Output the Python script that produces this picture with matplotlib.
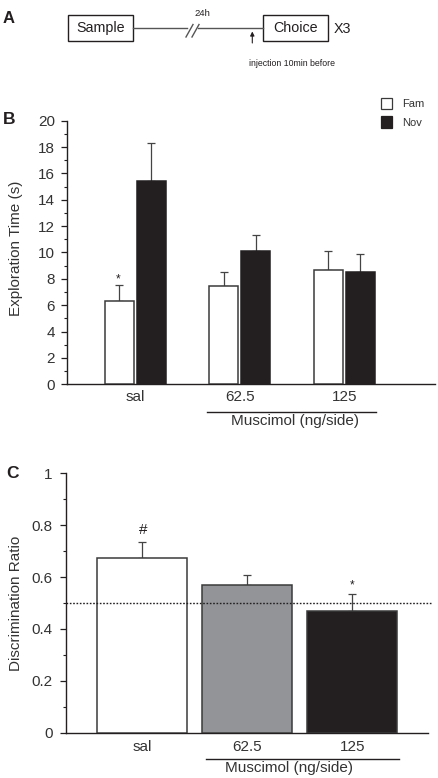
import matplotlib
matplotlib.use("Agg")
import matplotlib.pyplot as plt
from matplotlib.patches import Rectangle
from matplotlib.ticker import MultipleLocator
import numpy as np

plt.rcParams['font.family'] = ['Liberation Sans', 'DejaVu Sans']

# ---------------- data ----------------
groups = ["sal", "62.5", "125"]
fam_mean = [6.3, 7.45, 8.7]
fam_sem = [1.2, 1.05, 1.45]
nov_mean = [15.4, 10.15, 8.5]
nov_sem = [2.9, 1.15, 1.35]
series_labels = ["Fam", "Nov"]

dr_mean = [0.675, 0.569, 0.470]
dr_sem = [0.059, 0.038, 0.063]
dr_colors = ["#ffffff", "#929497", "#231f20"]
chance_level = 0.5

b_yticks = [0, 2, 4, 6, 8, 10, 12, 14, 16, 18, 20]
c_yticks = [0, 0.2, 0.4, 0.6, 0.8, 1]
c_yticklabels = ["0", "0.2", "0.4", "0.6", "0.8", "1"]

W, H = 438, 778
DPI = 100
fig = plt.figure(figsize=(W / DPI, H / DPI), dpi=DPI)

DARK = "#231f20"
EDGE = "#3a3a3a"
TXT = "#333333"

def px_axes(left, top, right, bottom):
    return fig.add_axes([left / W, 1 - bottom / H, (right - left) / W, (bottom - top) / H])

# ---------------- Panel A (schematic) ----------------
axA = fig.add_axes([0, 1 - 80 / H, 1, 80 / H])
axA.set_xlim(0, W)
axA.set_ylim(80, 0)
axA.axis("off")
axA.add_patch(Rectangle((68, 15), 65, 25.7, fill=False, ec=DARK, lw=1.0))
axA.add_patch(Rectangle((263, 15), 65, 25.7, fill=False, ec=DARK, lw=1.0))
axA.text(100.5, 28, "Sample", ha="center", va="center", fontsize=10.3, color=DARK)
axA.text(295.5, 27.5, "Choice", ha="center", va="center", fontsize=10.3, color=DARK)
axA.text(334, 29, "X3", ha="left", va="center", fontsize=10.3, color=DARK)
axA.plot([133, 187], [28.3, 28.3], color="#555555", lw=1.0)
axA.plot([198, 263], [28.3, 28.3], color="#555555", lw=1.0)
axA.plot([186, 193], [37, 24.5], color="#555555", lw=1.0)
axA.plot([192, 199], [37, 24.5], color="#555555", lw=1.0)
axA.text(202, 13.5, "24h", ha="center", va="center", fontsize=6.8, color=DARK)
axA.annotate("", xy=(252.3, 31.5), xytext=(252.3, 43),
             arrowprops=dict(arrowstyle="-|>", color=DARK, lw=0.8, mutation_scale=6,
                             shrinkA=0, shrinkB=0))
axA.text(249, 63, "injection 10min before", ha="left", va="center", fontsize=6.3, color=DARK)
axA.text(3, 18.5, "A", ha="left", va="center", fontsize=12, fontweight="bold", color=DARK)

# ---------------- Panel B ----------------
axB = px_axes(67, 120.7, 435, 384.3)
x = np.arange(len(groups))
bw = 0.2775
off = 0.154
err_kw = dict(ecolor="#444444", elinewidth=0.9, capsize=3.2, capthick=0.9)
axB.bar(x - off, fam_mean, bw, color="white", edgecolor=EDGE, linewidth=1.1, zorder=3)
axB.errorbar(x - off, fam_mean, yerr=[np.zeros(3), fam_sem], fmt="none", zorder=2, **err_kw)
axB.bar(x + off, nov_mean, bw, color=DARK, edgecolor=DARK, linewidth=1.1, zorder=3)
axB.errorbar(x + off, nov_mean, yerr=[np.zeros(3), nov_sem], fmt="none", zorder=2, **err_kw)

axB.set_xlim(-0.653, 2.869)
axB.set_ylim(0, 20)
axB.set_yticks(b_yticks)
axB.yaxis.set_minor_locator(MultipleLocator(1))
axB.set_xticks(x)
axB.set_xticklabels(groups)
for s in ["top", "right"]:
    axB.spines[s].set_visible(False)
for s in ["left", "bottom"]:
    axB.spines[s].set_linewidth(1.0)
    axB.spines[s].set_color(DARK)
axB.tick_params(axis="y", which="major", length=4.5, width=0.9, pad=4, labelsize=11,
                colors=DARK, labelcolor=TXT)
axB.tick_params(axis="y", which="minor", length=2.3, width=0.8, colors=DARK)
axB.tick_params(axis="x", length=0, pad=4, labelsize=11, labelcolor=TXT)
axB.set_ylabel("Exploration Time (s)", fontsize=11, color=TXT)
axB.yaxis.set_label_coords(-0.12, 0.515)

axB.text(-off - 0.01, fam_mean[0] + fam_sem[0] + 0.45, "*", ha="center", va="center",
         fontsize=8.5, color=DARK)
axB.plot([0.687, 2.301], [-0.106, -0.106], transform=axB.get_xaxis_transform(),
         color=DARK, lw=1.0, clip_on=False)
axB.text(1.53, -0.141, "Muscimol (ng/side)", transform=axB.get_xaxis_transform(),
         ha="center", va="center", fontsize=11, color=TXT)
axB.text(-0.173, 1.003, "B", transform=axB.transAxes, ha="left", va="center",
         fontsize=12.5, fontweight="bold", color=DARK)

# legend (manual)
axB.add_patch(Rectangle((0.853, 1.044), 0.030, 0.044, transform=axB.transAxes,
                        fc="white", ec=EDGE, lw=0.9, clip_on=False))
axB.add_patch(Rectangle((0.853, 0.972), 0.030, 0.044, transform=axB.transAxes,
                        fc=DARK, ec=DARK, lw=0.9, clip_on=False))
axB.text(0.910, 1.064, series_labels[0], transform=axB.transAxes, ha="left", va="center",
         fontsize=8, color=TXT)
axB.text(0.910, 0.992, series_labels[1], transform=axB.transAxes, ha="left", va="center",
         fontsize=8, color=TXT)

# ---------------- Panel C ----------------
axC = px_axes(65.7, 473.3, 432, 732.7)
bwc = 0.858
axC.bar(x, dr_mean, bwc, color=dr_colors, edgecolor=EDGE, linewidth=1.1, zorder=3)
axC.errorbar(x, dr_mean, yerr=[np.zeros(3), dr_sem], fmt="none", zorder=2, **err_kw)
axC.axhline(chance_level, color=DARK, lw=1.0, ls=(0, (1.2, 1.2)), zorder=4)
axC.set_xlim(-0.732, 2.760)
axC.set_ylim(0, 1)
axC.set_yticks(c_yticks)
axC.set_yticklabels(c_yticklabels)
axC.yaxis.set_minor_locator(MultipleLocator(0.1))
axC.set_xticks(x)
axC.set_xticklabels(groups)
for s in ["top", "right"]:
    axC.spines[s].set_visible(False)
for s in ["left", "bottom"]:
    axC.spines[s].set_linewidth(1.0)
    axC.spines[s].set_color(DARK)
axC.spines["bottom"].set_bounds(-0.732, 2.72)
axC.tick_params(axis="y", which="major", length=4.3, width=0.9, pad=5, labelsize=11,
                colors=DARK, labelcolor=TXT)
axC.tick_params(axis="y", which="minor", length=2.3, width=0.8, colors=DARK)
axC.tick_params(axis="x", length=0, pad=5, labelsize=11, labelcolor=TXT)
axC.set_ylabel("Discrimination Ratio", fontsize=11, color=TXT)
axC.yaxis.set_label_coords(-0.116, 0.5)

axC.text(0.01, 0.78, "#", ha="center", va="center", fontsize=11, color=DARK)
axC.text(2.0, 0.568, "*", ha="center", va="center", fontsize=8.5, color=DARK)
axC.plot([0.605, 2.445], [-0.101, -0.101], transform=axC.get_xaxis_transform(),
         color=DARK, lw=1.0, clip_on=False)
axC.text(1.40, -0.135, "Muscimol (ng/side)", transform=axC.get_xaxis_transform(),
         ha="center", va="center", fontsize=11, color=TXT)
axC.text(-0.161, 1.0, "C", transform=axC.transAxes, ha="left", va="center",
         fontsize=12.5, fontweight="bold", color=DARK)

fig.savefig("out.png", dpi=DPI)
